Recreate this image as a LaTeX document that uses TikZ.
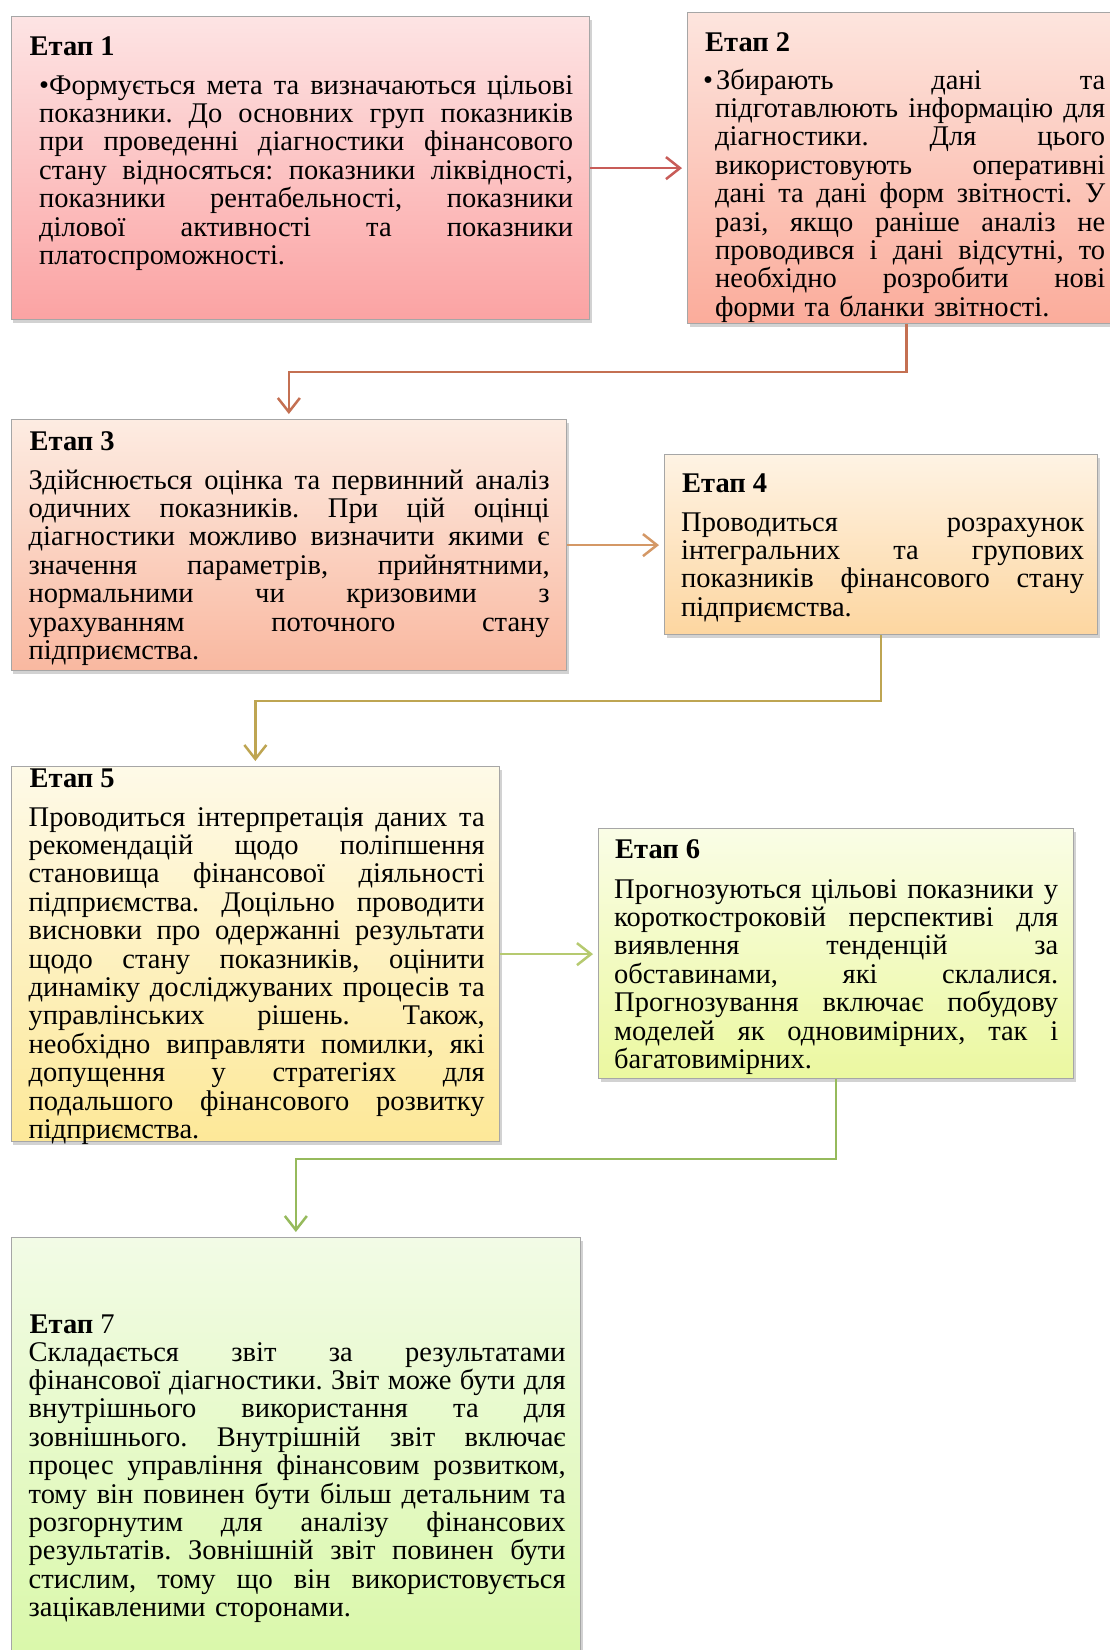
\documentclass[tikz,border=0pt]{standalone}
\usepackage{fontspec}
\setmainfont{Liberation Serif}
\usetikzlibrary{arrows.meta,shadows}

\definecolor{top1}{RGB}{253,228,228}\definecolor{bot1}{RGB}{251,163,163}
\definecolor{top2}{RGB}{253,229,222}\definecolor{bot2}{RGB}{251,172,155}
\definecolor{top3}{RGB}{253,236,226}\definecolor{bot3}{RGB}{249,184,160}
\definecolor{top4}{RGB}{254,243,228}\definecolor{bot4}{RGB}{253,214,160}
\definecolor{top5}{RGB}{254,250,232}\definecolor{bot5}{RGB}{253,232,152}
\definecolor{top6}{RGB}{250,253,230}\definecolor{bot6}{RGB}{235,248,160}
\definecolor{top7}{RGB}{242,251,230}\definecolor{bot7}{RGB}{217,248,168}

\definecolor{link1}{RGB}{200,92,88}
\definecolor{link2}{RGB}{196,112,82}
\definecolor{link3}{RGB}{212,152,102}
\definecolor{link4}{RGB}{190,165,82}
\definecolor{link5}{RGB}{182,202,112}
\definecolor{link6}{RGB}{150,186,92}

\newcommand{\bodyfont}{\fontsize{28.5pt}{28.4pt}\selectfont\frenchspacing}
% justified line, indented justified line
\newcommand{\jl}[1]{\leavevmode\hbox to \hsize{\spaceskip=.25em plus 1fil minus .08em\relax #1}\\}
\newcommand{\jli}[1]{\leavevmode\hbox to \hsize{\spaceskip=.25em plus 1fil minus .08em\relax \hspace*{12pt}#1}\\}

\begin{document}
\begin{tikzpicture}[x=1pt, y=-1pt,
    stage/.style={draw=black!35, line width=1.2pt, anchor=north west, inner sep=0pt,
                  drop shadow={shadow xshift=2pt, shadow yshift=-3pt, opacity=0.35}},
    title/.style={anchor=base west, inner sep=0pt, font=\bfseries\bodyfont},
    body/.style={anchor=base west, inner sep=0pt, text width=#1, font=\bodyfont},
    link/.style={line width=2.5pt, -{Straight Barb[length=14pt,width=22pt]}, shorten >=5pt}]

    \useasboundingbox (0,0) rectangle (1110,1650);
    \clip (0,0) rectangle (1110,1650);
    \fill[white] (0,0) rectangle (1110,1650);

    % boxes: number / left / top / width / height
    \foreach \i/\bx/\by/\bw/\bh in {1/10.5/16/578.5/303, 2/687/11.6/438/311.4, 3/10.5/419/555.5/251,
                                    4/664/454/433/180, 5/10.5/766/488.5/375, 6/598/828/475/250,
                                    7/10.5/1237/569.5/430}
    \node[stage, top color=top\i, bottom color=bot\i, minimum width=\bw pt, minimum height=\bh pt] (s\i) at (\bx,\by) {};

    \foreach \i/\tx/\ty in {1/29.5/55, 2/705/51, 3/29.5/450, 4/682/492, 5/29.5/787, 6/615/858}
    \node[title] (h\i) at (\tx,\ty) {Етап \i};
    \node[title] (h7) at (29.5,1333) {Етап \mdseries 7};

    \node[body=534pt] (b1) at (39,94) {%
        \jl{•Формується мета та визначаються цільові}
        \jl{показники. До основних груп показників}
        \jl{при проведенні діагностики фінансового}
        \jl{стану відносяться: показники ліквідності,}
        \jl{показники рентабельності, показники}
        \jl{ділової активності та показники}
        платоспроможності.};

    \node[body=402pt] (b2) at (703,89) {%
        \jl{•\hspace{3pt}Збирають дані та}
        \jli{підготавлюють інформацію для}
        \jli{діагностики. Для цього}
        \jli{використовують оперативні}
        \jli{дані та дані форм звітності. У}
        \jli{разі, якщо раніше аналіз не}
        \jli{проводився і дані відсутні, то}
        \jli{необхідно розробити нові}
        \hspace*{12pt}форми та бланки звітності.};

    \node[body=521pt] (b3) at (28.5,489) {%
        \jl{Здійснюється оцінка та первинний аналіз}
        \jl{одичних показників. При цій оцінці}
        \jl{діагностики можливо визначити якими є}
        \jl{значення параметрів, прийнятними,}
        \jl{нормальними чи кризовими з}
        \jl{урахуванням поточного стану}
        підприємства.};

    \node[body=403pt] (b4) at (681,531) {%
        \jl{Проводиться розрахунок}
        \jl{інтегральних та групових}
        \jl{показників фінансового стану}
        підприємства.};

    \node[body=456pt] (b5) at (28.5,826) {%
        \jl{Проводиться інтерпретація даних та}
        \jl{рекомендацій щодо поліпшення}
        \jl{становища фінансової діяльності}
        \jl{підприємства. Доцільно проводити}
        \jl{висновки про одержанні результати}
        \jl{щодо стану показників, оцінити}
        \jl{динаміку досліджуваних процесів та}
        \jl{управлінських рішень. Також,}
        \jl{необхідно виправляти помилки, які}
        \jl{допущення у стратегіях для}
        \jl{подальшого фінансового розвитку}
        підприємства.};

    \node[body=444pt] (b6) at (614,898) {%
        \jl{Прогнозуються цільові показники у}
        \jl{короткостроковій перспективі для}
        \jl{виявлення тенденцій за}
        \jl{обставинами, які склалися.}
        \jl{Прогнозування включає побудову}
        \jl{моделей як одновимірних, так і}
        багатовимірних.};

    \node[body=537pt] (b7) at (28.5,1361) {%
        \jl{Складається звіт за результатами}
        \jl{фінансової діагностики. Звіт може бути для}
        \jl{внутрішнього використання та для}
        \jl{зовнішнього. Внутрішній звіт включає}
        \jl{процес управління фінансовим розвитком,}
        \jl{тому він повинен бути більш детальним та}
        \jl{розгорнутим для аналізу фінансових}
        \jl{результатів. Зовнішній звіт повинен бути}
        \jl{стислим, тому що він використовується}
        зацікавленими сторонами.};

    % connectors
    \draw[link, link1] (s1.east) -- (s1.east -| s2.west);
    \draw[link, link2] (s2.south) -- ++(0,48) -| (s3.north);
    \draw[link, link3] (s3.east) -- (s3.east -| s4.west);
    \draw[link, link4] (s4.south) -- ++(0,66) -| (s5.north);
    \draw[link, link5] (s5.east) -- (s5.east -| s6.west);
    \draw[link, link6] (s6.south) -- ++(0,80) -| (s7.north);
\end{tikzpicture}
\end{document}
